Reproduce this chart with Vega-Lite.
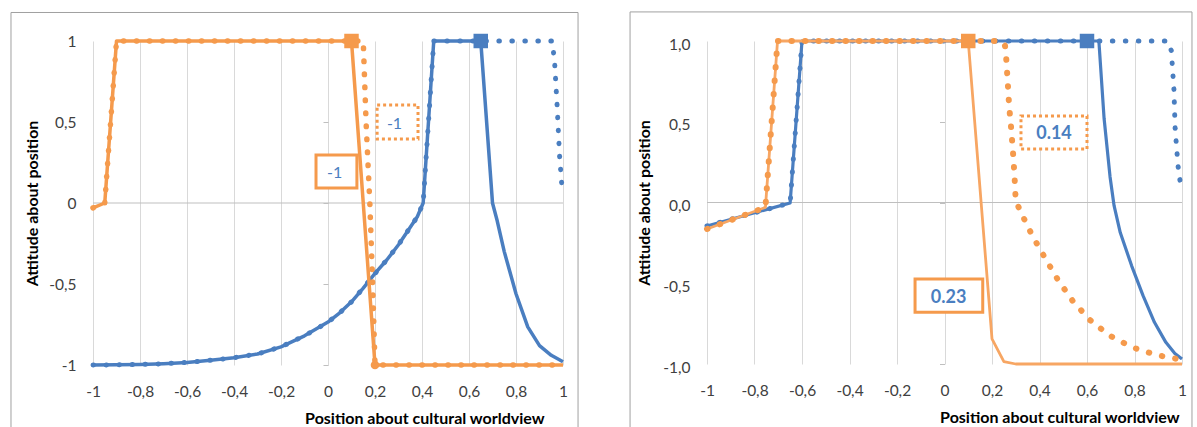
{
  "$schema": "https://vega.github.io/schema/vega-lite/v6.json",
  "background": "white",
  "padding": {"left": 10, "top": 11, "right": 0, "bottom": 0},
  "spacing": 50,
  "config": {
    "view": {"stroke": null},
    "font": "Lato",
    "axis": {"labelFont": "Lato", "labelFontSize": 15.5, "labelColor": "#404040", "titleFont": "Lato", "titleFontSize": 16, "titleFontWeight": "bold", "titleColor": "#000000", "domain": false, "ticks": false, "grid": false, "labelOverlap": false, "labelFlush": false, "labelBound": false},
    "line": {"strokeJoin": "round"}
  },
  "datasets": {
    "L": [
      {"s":"bs","x":-1,"y":-1},{"s":"bs","x":-0.9,"y":-0.999},{"s":"bs","x":-0.8,"y":-0.997},{"s":"bs","x":-0.7,"y":-0.992},{"s":"bs","x":-0.6,"y":-0.984},{"s":"bs","x":-0.5,"y":-0.971},{"s":"bs","x":-0.4,"y":-0.955},{"s":"bs","x":-0.3,"y":-0.932},{"s":"bs","x":-0.2,"y":-0.888},{"s":"bs","x":-0.1,"y":-0.82},{"s":"bs","x":0,"y":-0.735},{"s":"bs","x":0.05,"y":-0.678},{"s":"bs","x":0.1,"y":-0.61},{"s":"bs","x":0.15,"y":-0.525},{"s":"bs","x":0.2,"y":-0.435},{"s":"bs","x":0.25,"y":-0.352},{"s":"bs","x":0.3,"y":-0.258},{"s":"bs","x":0.35,"y":-0.15},{"s":"bs","x":0.38,"y":-0.085},{"s":"bs","x":0.405,"y":0},{"s":"bs","x":0.45,"y":1},{"s":"bs","x":0.65,"y":1},{"s":"bs","x":0.7,"y":0},{"s":"bs","x":0.72,"y":-0.11},{"s":"bs","x":0.75,"y":-0.3},{"s":"bs","x":0.8,"y":-0.56},{"s":"bs","x":0.85,"y":-0.765},{"s":"bs","x":0.9,"y":-0.88},{"s":"bs","x":0.95,"y":-0.94},{"s":"bs","x":1,"y":-0.98},
      {"s":"bd","x":-1,"y":-1},{"s":"bd","x":-0.9,"y":-0.999},{"s":"bd","x":-0.8,"y":-0.997},{"s":"bd","x":-0.7,"y":-0.992},{"s":"bd","x":-0.6,"y":-0.984},{"s":"bd","x":-0.5,"y":-0.971},{"s":"bd","x":-0.4,"y":-0.955},{"s":"bd","x":-0.3,"y":-0.932},{"s":"bd","x":-0.2,"y":-0.888},{"s":"bd","x":-0.1,"y":-0.82},{"s":"bd","x":0,"y":-0.735},{"s":"bd","x":0.05,"y":-0.678},{"s":"bd","x":0.1,"y":-0.61},{"s":"bd","x":0.15,"y":-0.525},{"s":"bd","x":0.2,"y":-0.435},{"s":"bd","x":0.25,"y":-0.352},{"s":"bd","x":0.3,"y":-0.258},{"s":"bd","x":0.35,"y":-0.15},{"s":"bd","x":0.38,"y":-0.085},{"s":"bd","x":0.405,"y":0},{"s":"bd","x":0.45,"y":1},{"s":"bd","x":0.955,"y":1},{"s":"bd","x":0.965,"y":0.85},{"s":"bd","x":0.975,"y":0.6},{"s":"bd","x":0.985,"y":0.3},{"s":"bd","x":0.998,"y":0.05},
      {"s":"os","x":-1,"y":-0.03},{"s":"os","x":-0.95,"y":0},{"s":"os","x":-0.9,"y":1},{"s":"os","x":0.1,"y":1},{"s":"os","x":0.2,"y":-1},{"s":"os","x":1,"y":-1},
      {"s":"od","x":-1,"y":-0.03},{"s":"od","x":-0.95,"y":0},{"s":"od","x":-0.9,"y":1},{"s":"od","x":0.15,"y":1},{"s":"od","x":0.162,"y":0.5},{"s":"od","x":0.178,"y":0},{"s":"od","x":0.19,"y":-0.5},{"s":"od","x":0.2,"y":-1},{"s":"od","x":1,"y":-1}
    ],
    "R": [
      {"s":"bs","x":-1,"y":-0.145},{"s":"bs","x":-0.65,"y":-0.003},{"s":"bs","x":-0.6,"y":1},{"s":"bs","x":0.65,"y":1},{"s":"bs","x":0.672,"y":0.52},{"s":"bs","x":0.697,"y":0.16},{"s":"bs","x":0.714,"y":-0.02},{"s":"bs","x":0.74,"y":-0.186},{"s":"bs","x":0.788,"y":-0.392},{"s":"bs","x":0.836,"y":-0.577},{"s":"bs","x":0.884,"y":-0.742},{"s":"bs","x":0.932,"y":-0.866},{"s":"bs","x":0.97,"y":-0.935},{"s":"bs","x":1,"y":-0.969},
      {"s":"bd","x":-1,"y":-0.145},{"s":"bd","x":-0.65,"y":-0.003},{"s":"bd","x":-0.6,"y":1},{"s":"bd","x":0.94,"y":1},{"s":"bd","x":0.955,"y":0.94},{"s":"bd","x":0.966,"y":0.7},{"s":"bd","x":0.971,"y":0.46},{"s":"bd","x":0.983,"y":0.23},{"s":"bd","x":0.998,"y":0.065},
      {"s":"os","x":-1,"y":-0.164},{"s":"os","x":-0.754,"y":-0.03},{"s":"os","x":-0.703,"y":1},{"s":"os","x":0.1,"y":1},{"s":"os","x":0.2,"y":-0.845},{"s":"os","x":0.25,"y":-0.985},{"s":"os","x":0.3,"y":-1},{"s":"os","x":1,"y":-1},
      {"s":"od","x":-1,"y":-0.164},{"s":"od","x":-0.754,"y":-0.03},{"s":"od","x":-0.703,"y":1},{"s":"od","x":0.24,"y":1},{"s":"od","x":0.255,"y":0.97},{"s":"od","x":0.26,"y":0.89},{"s":"od","x":0.266,"y":0.75},{"s":"od","x":0.272,"y":0.6},{"s":"od","x":0.28,"y":0.47},{"s":"od","x":0.288,"y":0.32},{"s":"od","x":0.295,"y":0.16},{"s":"od","x":0.3,"y":0.01},{"s":"od","x":0.322,"y":-0.062},{"s":"od","x":0.37,"y":-0.206},{"s":"od","x":0.422,"y":-0.34},{"s":"od","x":0.478,"y":-0.48},{"s":"od","x":0.539,"y":-0.608},{"s":"od","x":0.611,"y":-0.726},{"s":"od","x":0.696,"y":-0.825},{"s":"od","x":0.791,"y":-0.897},{"s":"od","x":0.892,"y":-0.944},{"s":"od","x":0.981,"y":-0.969},{"s":"od","x":1,"y":-0.973}
    ],
    "LM": [{"c":"orange","m":"square","x":0.1,"y":1},{"c":"blue","m":"square","x":0.65,"y":1},{"c":"orange","m":"circle","x":0.2,"y":-1}],
    "RM": [{"c":"orange","m":"square","x":0.1,"y":1},{"c":"blue","m":"square","x":0.6,"y":1}],
    "LB": [{"t":"-1","b":"solid","x1":-0.051,"x2":0.123,"y1":0.093,"y2":0.296,"tx":0.028,"ty":0.185},{"t":"-1","b":"dotted","x1":0.209,"x2":0.383,"y1":0.395,"y2":0.605,"tx":0.283,"ty":0.485}],
    "RB": [{"t":"0.23","b":"solid","x1":-0.124,"x2":0.161,"y1":-0.68,"y2":-0.474,"tx":0.017,"ty":-0.59},{"t":"0.14","b":"dotted","x1":0.322,"x2":0.6,"y1":0.331,"y2":0.536,"tx":0.461,"ty":0.425}]
  },
  "hconcat": [
    {
      "width": 470, "height": 324,
      "resolve": {"axis": {"x": "independent", "y": "independent"}},
      "layer": [
        {"data": {"values": [{}]}, "mark": {"type": "rect", "fill": "white", "fillOpacity": 0, "stroke": "#A0A0A0", "strokeWidth": 1},
         "encoding": {"x": {"datum": -1.349, "type": "quantitative", "scale": {"domain": [-1, 1], "nice": false, "zero": false}, "axis": null}, "x2": {"datum": 1.064}, "y": {"datum": 1.176, "type": "quantitative", "scale": {"domain": [-1, 1], "nice": false, "zero": false}, "axis": null}, "y2": {"datum": -1.475}}},
        {"data": {"values": [{}]}, "mark": {"type": "rule", "color": "#BFBFBF", "strokeWidth": 1},
         "encoding": {"y": {"datum": 0, "type": "quantitative", "scale": {"domain": [-1, 1], "nice": false, "zero": false}, "axis": {"orient": "left", "offset": -235, "values": [-1, -0.5, 0, 0.5, 1], "labels": false, "ticks": true, "tickSize": 5, "tickColor": "#BFBFBF", "title": null}}}},
        {"data": {"name": "L"}, "transform": [{"filter": "datum.s == 'bs'"}], "mark": {"type": "line", "color": "#4A7EC0", "strokeWidth": 3.5},
         "encoding": {
           "x": {"field": "x", "type": "quantitative", "scale": {"domain": [-1, 1], "nice": false, "zero": false},
                 "axis": {"orient": "bottom", "values": [-1, -0.8, -0.6, -0.4, -0.2, 0, 0.2, 0.4, 0.6, 0.8, 1], "labelExpr": "replace(replace(format(datum.value, '.1~f'), '.', ','), '\u2212', '-')", "grid": true, "gridColor": "#D9D9D9", "labelPadding": 19, "title": "Position about cultural worldview", "titleAlign": "right", "titleX": 451, "titleY": 53, "titleBaseline": "middle"}},
           "y": {"field": "y", "type": "quantitative", "scale": {"domain": [-1, 1], "nice": false, "zero": false},
                 "axis": {"orient": "left", "values": [-1, -0.5, 0, 0.5, 1], "labelExpr": "replace(replace(format(datum.value, '.1~f'), '.', ','), '\u2212', '-')", "labelPadding": 17, "title": "Attitude about position", "titleX": -61, "titleY": 162, "titleAngle": 270, "titleAlign": "center", "titleBaseline": "middle"}},
           "order": {"value": null}}},
        {"data": {"name": "L"}, "transform": [{"filter": "datum.s == 'bd'"}], "mark": {"type": "line", "color": "#4A7EC0", "strokeWidth": 5, "strokeDash": [0.5, 12.5], "strokeCap": "round"},
         "encoding": {"x": {"field": "x", "type": "quantitative", "axis": null}, "y": {"field": "y", "type": "quantitative", "axis": null}, "order": {"value": null}}},
        {"data": {"name": "L"}, "transform": [{"filter": "datum.s == 'os'"}], "mark": {"type": "line", "color": "#F59A4C", "strokeWidth": 3.5},
         "encoding": {"x": {"field": "x", "type": "quantitative", "axis": null}, "y": {"field": "y", "type": "quantitative", "axis": null}, "order": {"value": null}}},
        {"data": {"name": "L"}, "transform": [{"filter": "datum.s == 'od'"}], "mark": {"type": "line", "color": "#F59A4C", "strokeWidth": 5.5, "strokeDash": [0.5, 12.5], "strokeCap": "round"},
         "encoding": {"x": {"field": "x", "type": "quantitative", "axis": null}, "y": {"field": "y", "type": "quantitative", "axis": null}, "order": {"value": null}}},
        {"data": {"name": "LM"}, "transform": [{"filter": "datum.m == 'square'"}], "mark": {"type": "point", "shape": "square", "filled": true, "opacity": 1, "size": 210},
         "encoding": {"x": {"field": "x", "type": "quantitative", "axis": null}, "y": {"field": "y", "type": "quantitative", "axis": null}, "color": {"field": "c", "type": "nominal", "scale": {"domain": ["orange", "blue"], "range": ["#F59A4C", "#4A7EC0"]}, "legend": null}}},
        {"data": {"name": "LM"}, "transform": [{"filter": "datum.m == 'circle'"}], "mark": {"type": "point", "shape": "circle", "filled": true, "opacity": 1, "size": 75},
         "encoding": {"x": {"field": "x", "type": "quantitative", "axis": null}, "y": {"field": "y", "type": "quantitative", "axis": null}, "color": {"field": "c", "type": "nominal", "scale": {"domain": ["orange", "blue"], "range": ["#F59A4C", "#4A7EC0"]}, "legend": null}}},
        {"data": {"name": "LB"}, "transform": [{"filter": "datum.b == 'solid'"}], "mark": {"type": "rect", "fill": "white", "stroke": "#F59A4C", "strokeWidth": 3},
         "encoding": {"x": {"field": "x1", "type": "quantitative", "axis": null}, "x2": {"field": "x2"}, "y": {"field": "y1", "type": "quantitative", "axis": null}, "y2": {"field": "y2"}}},
        {"data": {"name": "LB"}, "transform": [{"filter": "datum.b == 'dotted'"}], "mark": {"type": "rect", "fill": "white", "stroke": "#F59A4C", "strokeWidth": 3, "strokeDash": [3, 3]},
         "encoding": {"x": {"field": "x1", "type": "quantitative", "axis": null}, "x2": {"field": "x2"}, "y": {"field": "y1", "type": "quantitative", "axis": null}, "y2": {"field": "y2"}}},
        {"data": {"name": "LB"}, "mark": {"type": "text", "color": "#4A7EC0", "font": "Lato", "fontSize": 16, "align": "center", "baseline": "middle"},
         "encoding": {"x": {"field": "tx", "type": "quantitative", "axis": null}, "y": {"field": "ty", "type": "quantitative", "axis": null}, "text": {"field": "t"}}}
      ]
    },
    {
      "width": 475, "height": 323,
      "resolve": {"axis": {"x": "independent", "y": "independent"}},
      "layer": [
        {"data": {"values": [{}]}, "mark": {"type": "rect", "fill": "white", "fillOpacity": 0, "stroke": "#A0A0A0", "strokeWidth": 1},
         "encoding": {"x": {"datum": -1.324, "type": "quantitative", "scale": {"domain": [-1, 1], "nice": false, "zero": false}, "axis": null}, "x2": {"datum": 1.042}, "y": {"datum": 1.18, "type": "quantitative", "scale": {"domain": [-1, 1], "nice": false, "zero": false}, "axis": null}, "y2": {"datum": -1.464}}},
        {"data": {"values": [{}]}, "mark": {"type": "rule", "color": "#BFBFBF", "strokeWidth": 1},
         "encoding": {"y": {"datum": 0, "type": "quantitative", "scale": {"domain": [-1, 1], "nice": false, "zero": false}, "axis": {"orient": "left", "offset": -237.5, "values": [-1, -0.5, 0, 0.5, 1], "labels": false, "ticks": true, "tickSize": 5, "tickColor": "#BFBFBF", "title": null}}}},
        {"data": {"name": "R"}, "transform": [{"filter": "datum.s == 'bs'"}], "mark": {"type": "line", "color": "#4A7EC0", "strokeWidth": 3.2},
         "encoding": {
           "x": {"field": "x", "type": "quantitative", "scale": {"domain": [-1, 1], "nice": false, "zero": false},
                 "axis": {"orient": "bottom", "values": [-1, -0.8, -0.6, -0.4, -0.2, 0, 0.2, 0.4, 0.6, 0.8, 1], "labelExpr": "replace(replace(format(datum.value, '.1~f'), '.', ','), '\u2212', '-')", "grid": true, "gridColor": "#D9D9D9", "labelPadding": 19, "title": "Position about cultural worldview", "titleAlign": "right", "titleX": 472, "titleY": 53, "titleBaseline": "middle"}},
           "y": {"field": "y", "type": "quantitative", "scale": {"domain": [-1, 1], "nice": false, "zero": false},
                 "axis": {"orient": "left", "values": [-1, -0.5, 0, 0.5, 1], "labelExpr": "replace(replace(format(datum.value, '.1f'), '.', ','), '\u2212', '-')", "labelPadding": 17, "labelOffset": 3, "title": "Attitude about position", "titleX": -63, "titleY": 161.5, "titleAngle": 270, "titleAlign": "center", "titleBaseline": "middle"}},
           "order": {"value": null}}},
        {"data": {"name": "R"}, "transform": [{"filter": "datum.s == 'bd'"}], "mark": {"type": "line", "color": "#4A7EC0", "strokeWidth": 5, "strokeDash": [0.5, 12.5], "strokeCap": "round"},
         "encoding": {"x": {"field": "x", "type": "quantitative", "axis": null}, "y": {"field": "y", "type": "quantitative", "axis": null}, "order": {"value": null}}},
        {"data": {"name": "R"}, "transform": [{"filter": "datum.s == 'os'"}], "mark": {"type": "line", "color": "#F7A663", "strokeWidth": 2.8},
         "encoding": {"x": {"field": "x", "type": "quantitative", "axis": null}, "y": {"field": "y", "type": "quantitative", "axis": null}, "order": {"value": null}}},
        {"data": {"name": "R"}, "transform": [{"filter": "datum.s == 'od'"}], "mark": {"type": "line", "color": "#F59A4C", "strokeWidth": 6, "strokeDash": [0.5, 13], "strokeCap": "round"},
         "encoding": {"x": {"field": "x", "type": "quantitative", "axis": null}, "y": {"field": "y", "type": "quantitative", "axis": null}, "order": {"value": null}}},
        {"data": {"name": "RM"}, "mark": {"type": "point", "shape": "square", "filled": true, "opacity": 1, "size": 210},
         "encoding": {"x": {"field": "x", "type": "quantitative", "axis": null}, "y": {"field": "y", "type": "quantitative", "axis": null}, "color": {"field": "c", "type": "nominal", "scale": {"domain": ["orange", "blue"], "range": ["#F59A4C", "#4A7EC0"]}, "legend": null}}},
        {"data": {"name": "RB"}, "transform": [{"filter": "datum.b == 'solid'"}], "mark": {"type": "rect", "fill": "white", "stroke": "#F59A4C", "strokeWidth": 3},
         "encoding": {"x": {"field": "x1", "type": "quantitative", "axis": null}, "x2": {"field": "x2"}, "y": {"field": "y1", "type": "quantitative", "axis": null}, "y2": {"field": "y2"}}},
        {"data": {"name": "RB"}, "transform": [{"filter": "datum.b == 'dotted'"}], "mark": {"type": "rect", "fill": "white", "stroke": "#F59A4C", "strokeWidth": 3, "strokeDash": [3, 3]},
         "encoding": {"x": {"field": "x1", "type": "quantitative", "axis": null}, "x2": {"field": "x2"}, "y": {"field": "y1", "type": "quantitative", "axis": null}, "y2": {"field": "y2"}}},
        {"data": {"name": "RB"}, "mark": {"type": "text", "color": "#4A7EC0", "font": "Lato", "fontSize": 18, "fontWeight": "bold", "align": "center", "baseline": "middle"},
         "encoding": {"x": {"field": "tx", "type": "quantitative", "axis": null}, "y": {"field": "ty", "type": "quantitative", "axis": null}, "text": {"field": "t"}}}
      ]
    }
  ]
}
